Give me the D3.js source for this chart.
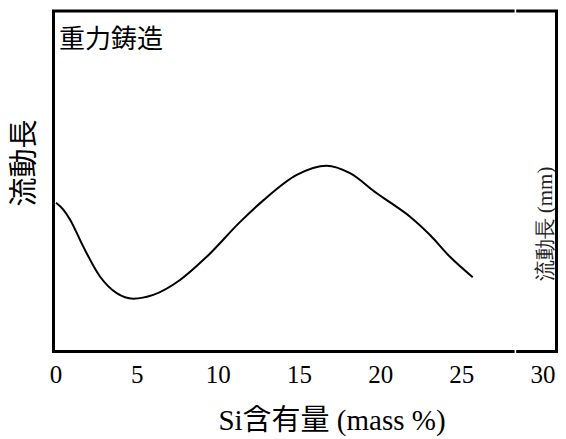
<!DOCTYPE html>
<html>
<head>
<meta charset="utf-8">
<script src="https://cdn.jsdelivr.net/npm/d3@7"></script>
<style>
  body { margin: 0; background: #fff; }
  svg { display: block; }
</style>
</head>
<body>
<div id="chart"></div>
<script>
// Si content (mass %) and fluidity length (relative, no scale given)
const siContent = [0, 0.45, 0.86, 1.68, 2.71, 3.74, 4.76, 5.99, 7.64, 9.28, 11.33, 12.77, 14.83, 16.68, 18.11, 19.76, 20.58, 21.81, 23.04, 24.27, 25.67]
const flowLength = [43.6, 41.6, 38.7, 30.7, 21.9, 17.0, 15.4, 16.5, 20.9, 27.7, 37.9, 44.3, 51.8, 54.5, 52.3, 46.4, 43.7, 39.5, 34.1, 27.7, 21.7]
const xTicks = [0, 5, 10, 15, 20, 25, 30]
const breakAt = 28.3 // small gap in top/bottom border

const width = 566
const height = 439
const serif = '"Times New Roman", "Liberation Serif", "DejaVu Serif", serif'
const cjk = '"Noto Sans CJK JP", sans-serif'
// frame
const frame = { left: 53.5, right: 556.5, top: 11, bottom: 351.5 }

const svg = d3.select('#chart').append('svg')
  .attr('width', width)
  .attr('height', height)

// Scales
const x = d3.scaleLinear().domain([0, 30]).range([56, 543])
const y = d3.scaleLinear().domain([0, 100]).range([351, 11])

// Right-side label (sits under the frame line)
svg.append('text')
  .attr('transform', 'translate(552,224) rotate(-90)')
  .attr('text-anchor', 'middle')
  .style('font-family', serif)
  .style('font-size', '21px')
  .attr('fill', '#222')
  .text('流動長 (mm)')

// Frame
svg.append('rect')
  .attr('x', frame.left)
  .attr('y', frame.top)
  .attr('width', frame.right - frame.left)
  .attr('height', frame.bottom - frame.top)
  .attr('fill', 'none')
  .attr('stroke', '#000')
  .attr('stroke-width', 3)

// Little white breaks in the top and bottom border
;[frame.top, frame.bottom].forEach(yy => {
  svg.append('rect')
    .attr('x', x(breakAt) - 0.8)
    .attr('y', yy - 2.5)
    .attr('width', 1.6)
    .attr('height', 5)
    .attr('fill', '#fff')
})

// Curve
const line = d3.line()
  .x(d => x(d[0]))
  .y(d => y(d[1]))
  .curve(d3.curveMonotoneX)

svg.append('path')
  .datum(siContent.map((s, i) => [s, flowLength[i]]))
  .attr('d', line)
  .attr('fill', 'none')
  .attr('stroke', '#000')
  .attr('stroke-width', 2)

// x tick labels (no tick marks)
svg.append('g')
  .selectAll('text')
  .data(xTicks)
  .enter().append('text')
  .attr('x', d => x(d))
  .attr('y', 383)
  .attr('text-anchor', 'middle')
  .style('font-family', serif)
  .style('font-size', '25px')
  .text(d => d)

// x axis label: Latin part in serif, kanji in the CJK font
const xLabel = svg.append('text')
  .attr('x', 332)
  .attr('y', 430)
  .attr('text-anchor', 'middle')
  .style('font-family', serif)
  .style('font-size', '29px')
xLabel.append('tspan').text('Si')
xLabel.append('tspan').style('font-family', cjk).text('含有量')
xLabel.append('tspan').text(' (mass %)')

// y axis label
svg.append('text')
  .attr('transform', 'translate(34,163) rotate(-90)')
  .attr('text-anchor', 'middle')
  .style('font-family', cjk)
  .style('font-size', '29px')
  .text('流動長')

// Panel title
svg.append('text')
  .attr('x', 59)
  .attr('y', 48)
  .style('font-family', cjk)
  .style('font-size', '26px')
  .text('重力鋳造')
</script>
</body>
</html>
